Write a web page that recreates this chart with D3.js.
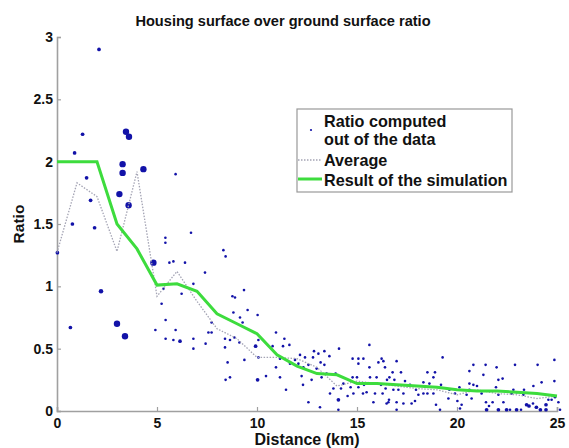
<!DOCTYPE html>
<html>
<head>
<meta charset="utf-8">
<script src="https://cdn.jsdelivr.net/npm/d3@7"></script>
<style>
  body { margin: 0; background: #fff; }
  text { font-family: "Liberation Sans", Arial, sans-serif; }
</style>
</head>
<body>
<div id="chart"></div>
<script>
// chart data
var titleText = "Housing surface over ground surface ratio";
var xTicks = [0, 5, 10, 15, 20, 25];
var yTicks = [0, 0.5, 1, 1.5, 2, 2.5, 3];
var legendLabels = [["Ratio computed", "out of the data"], ["Average"], ["Result of the simulation"]];

// distance (km) for the two lines
var lineDist = [0,1,2,3,4,5,6,7,8,9,10,11,12,13,14,15,16,17,18,19,20,21,22,23,24,25];
var averageRatio = [1.27,1.83,1.72,1.28,1.92,0.92,1.12,0.88,0.66,0.58,0.43,0.43,0.42,0.35,0.20,0.24,0.22,0.20,0.18,0.17,0.13,0.17,0.14,0.13,0.10,0.12];
var simulationRatio = [2.0,2.0,2.0,1.5,1.3,1.01,1.02,0.96,0.78,0.70,0.62,0.45,0.36,0.30,0.29,0.22,0.22,0.21,0.20,0.19,0.17,0.16,0.16,0.15,0.14,0.12];

// [distance, ratio, weight] for the data points
var ratioPoints = [
  [0.02,1.27,2],[0.67,0.67,2],[0.77,1.50,2],[0.88,2.07,2],[1.28,2.22,2],[1.48,1.87,2],[1.68,1.69,2],[1.88,1.47,2],
  [2.1,2.9,2],[2.2,0.96,3],[3.0,0.70,6],[3.4,0.60,6],[3.12,1.74,6],[3.28,1.98,6],[3.28,1.91,6],[3.45,2.24,6],
  [3.6,2.20,6],[3.58,1.65,6],[4.32,1.94,6],[4.82,1.19,6],
  [4.92,0.65,1],[5.23,0.86,1],[5.32,0.98,1],[5.43,0.73,1],[5.43,0.58,1],[5.42,1.39,1],[5.42,1.35,1],[5.62,1.19,1],
  [5.82,1.20,1],[5.82,0.57,1],[5.93,1.90,1],[5.93,0.65,1],[6.15,0.56,2],[6.23,0.94,1],[6.4,1.19,1],[6.7,1.43,1],
  [6.82,1.02,1],[6.82,0.58,1],[6.82,0.50,1],[7.4,1.11,1],[7.43,0.54,1],[7.57,0.63,1],[7.73,0.63,1],[7.73,0.71,1],
  [8.32,1.29,1],[8.43,1.24,1],[8.4,0.58,1],[8.4,0.51,1],[8.53,0.39,1],[8.43,0.25,1],[8.65,0.57,1],[8.65,0.27,1],
  [8.77,0.92,1],[8.9,0.91,1],[8.82,0.79,1],[8.87,0.59,1],[9.12,0.55,1],[9.15,0.75,1],[9.28,0.71,1],[9.35,0.97,1],
  [9.37,0.41,1],[9.53,0.81,1],[9.93,0.52,2],[10.03,0.77,1],[10.07,0.57,1],[10.07,0.43,1],[10.03,0.25,2],[10.45,0.28,1],
  [10.95,0.63,1],[10.78,0.52,1],[11.37,0.58,1],[11.62,0.53,1],[11.3,0.52,1],[11.15,0.42,1],[10.95,0.35,1],[11.15,0.27,1],
  [11.45,0.17,1],[11.65,0.38,1],[11.9,0.41,1],[12.07,0.38,1],[12.15,0.45,1],[12.4,0.43,1],[12.57,0.37,1],[12.32,0.35,1],
  [12.23,0.28,1],[12.3,0.21,1],[12.57,0.07,1],[12.85,0.48,1],[12.8,0.43,1],[13.07,0.46,1],[13.18,0.39,1],[12.98,0.34,1],
  [13.37,0.48,1],[13.37,0.37,1],[13.48,0.30,1],[13.23,0.27,1],[12.73,0.25,1],[13.15,0.03,1],[13.62,0.44,1],[14.1,0.50,1],
  [13.93,0.30,1],[13.65,0.14,1],[14.07,0.09,2],[14.07,0.01,1],[13.82,0.18,1],[14.2,0.18,1],[14.32,0.22,1],[14.53,0.12,1],
  [14.78,0.42,1],[15.07,0.42,1],[15.32,0.42,1],[15.62,0.53,1],[15.07,0.38,1],[14.78,0.27,1],[15.0,0.27,1],[14.68,0.19,1],
  [15.07,0.19,1],[14.82,0.14,1],[15.35,0.21,1],[15.48,0.15,1],[15.3,0.14,1],[15.65,0.27,1],[15.62,0.35,1],[15.9,0.14,1],
  [15.82,0.07,1],[16.07,0.39,1],[16.23,0.42,1],[16.2,0.21,1],[16.43,0.18,1],[16.48,0.06,1],[16.6,0.09,1],[16.32,0.40,1],
  [16.98,0.40,1],[16.4,0.35,1],[16.78,0.31,1],[17.2,0.31,1],[15.98,0.27,1],[16.62,0.27,1],[16.87,0.25,1],[16.5,0.25,1],
  [15.82,0.22,1],[17.4,0.24,1],[17.65,0.21,1],[17.07,0.17,1],[16.82,0.17,1],[16.28,0.14,1],[17.32,0.14,1],[16.57,0.07,1],
  [16.98,0.07,1],[17.32,0.06,1],[16.98,0.01,1],[17.73,0.06,1],[17.9,0.08,1],[18.07,0.13,1],[18.32,0.14,1],[18.32,0.23,1],
  [18.52,0.31,1],[18.9,0.31,1],[18.82,0.27,1],[18.62,0.22,1],[18.52,0.14,1],[18.82,0.14,1],[19.2,0.21,1],[19.28,0.43,1],
  [17.95,0.17,1],[18.95,0.05,1],[19.15,0.01,1],[19.57,0.10,1],[19.62,0.17,1],[19.9,0.14,1],[20.12,0.19,1],[20.02,0.08,1],
  [20.23,0.05,1],[20.15,0.02,1],[20.48,0.13,1],[20.62,0.17,1],[20.73,0.10,1],[20.62,0.22,1],[20.82,0.21,1],[21.0,0.20,1],
  [20.62,0.32,1],[20.82,0.37,1],[21.32,0.29,1],[21.43,0.37,1],[21.23,0.14,1],[21.45,0.07,1],[21.48,0.01,2],[21.6,0.04,1],
  [21.78,0.07,1],[21.98,0.35,1],[22.07,0.25,1],[22.28,0.26,1],[21.95,0.19,1],[22.07,0.13,1],[22.32,0.07,1],[22.07,0.01,2],
  [22.48,0.01,2],[22.65,0.01,1],[22.9,0.37,1],[22.82,0.17,1],[22.98,0.15,1],[22.73,0.14,1],[22.98,0.01,2],[23.2,0.01,1],
  [23.48,0.05,2],[23.6,0.04,2],[23.82,0.20,1],[24.03,0.37,1],[24.23,0.23,1],[23.97,0.03,2],[24.17,0.01,2],[24.45,0.01,2],
  [24.45,0.05,2],[24.57,0.09,1],[24.73,0.09,1],[24.87,0.41,1],[24.87,0.24,1],[25.07,0.07,1],[25.15,0.01,1],[24.9,0.11,1],
  [23.8,0.06,1],[23.32,0.13,1],[23.35,0.17,1]
];

var W = 569, H = 448;
var margin = {top: 37, right: 12, bottom: 37, left: 57};
var width = W - margin.left - margin.right,
    height = H - margin.top - margin.bottom;

var svg = d3.select("#chart").append("svg")
    .attr("width", W)
    .attr("height", H);

var g = svg.append("g")
    .attr("transform", "translate(" + margin.left + "," + margin.top + ")");

var x = d3.scaleLinear().domain([0, 25]).range([0, width]);
var y = d3.scaleLinear().domain([0, 3]).range([height, 0]);
var r = d3.scaleSqrt().domain([0, 6]).range([0, 3.2]);

// title
svg.append("text")
    .attr("x", 283).attr("y", 26)
    .attr("text-anchor", "middle")
    .style("font-size", "14.6px").style("font-weight", "bold")
    .attr("fill", "#111")
    .text(titleText);

// axes
var xAxis = g.append("g")
    .attr("transform", "translate(0," + height + ")")
    .call(d3.axisBottom(x).tickValues(xTicks).tickSize(-4).tickPadding(7).tickFormat(String));
var yAxis = g.append("g")
    .call(d3.axisLeft(y).tickValues(yTicks).tickSize(-4).tickPadding(4).tickFormat(String));

[xAxis, yAxis].forEach(function(a) {
    a.select(".domain").attr("stroke", "#a0a0a0").attr("stroke-width", 1.6);
    a.selectAll(".tick line").attr("stroke", "#a0a0a0").attr("stroke-width", 1.2);
    a.selectAll(".tick text")
        .attr("fill", "#111")
        .style("font-size", "14px").style("font-weight", "bold")
        .style("font-family", "'Liberation Sans', Arial, sans-serif");
});

// axis labels
svg.append("text")
    .attr("x", margin.left + width / 2).attr("y", 445)
    .attr("text-anchor", "middle")
    .style("font-size", "16px").style("font-weight", "bold")
    .attr("fill", "#111")
    .text("Distance (km)");
svg.append("text")
    .attr("transform", "translate(24," + (margin.top + height / 2) + ") rotate(-90)")
    .attr("text-anchor", "middle")
    .style("font-size", "15.5px").style("font-weight", "bold")
    .attr("fill", "#111")
    .text("Ratio");

// data points
g.selectAll("circle.pt")
    .data(ratioPoints)
    .enter()
    .append("circle")
        .attr("class", "pt")
        .attr("cx", function(d) { return x(d[0]); })
        .attr("cy", function(d) { return y(d[1]); })
        .attr("r", function(d) { return r(d[2]); })
        .attr("fill", "#1212a8");

// average line (dotted gray)
var avgLine = d3.line()
    .x(function(d, i) { return x(lineDist[i]); })
    .y(function(d) { return y(d); });
g.append("path")
    .datum(averageRatio)
    .attr("d", avgLine)
    .attr("fill", "none")
    .attr("stroke", "#a4a4b4")
    .attr("stroke-width", 1.3)
    .attr("stroke-dasharray", "1.5,1.5");

// simulation line
g.append("path")
    .datum(simulationRatio)
    .attr("d", avgLine)
    .attr("fill", "none")
    .attr("stroke", "#3ddc3d")
    .attr("stroke-width", 3);

// legend
var leg = svg.append("g");
leg.append("rect")
    .attr("x", 297).attr("y", 109).attr("width", 215).attr("height", 83)
    .attr("fill", "#fff").attr("stroke", "#999").attr("stroke-width", 1.2);
leg.append("circle").attr("cx", 311).attr("cy", 130).attr("r", 1.1).attr("fill", "#1212a8");
leg.append("line").attr("x1", 298).attr("x2", 322).attr("y1", 160).attr("y2", 160)
    .attr("stroke", "#a4a4b4").attr("stroke-width", 1.3).attr("stroke-dasharray", "1.5,1.5");
leg.append("line").attr("x1", 298).attr("x2", 322).attr("y1", 179).attr("y2", 179)
    .attr("stroke", "#3ddc3d").attr("stroke-width", 3);

var legBaselines = [[127, 145], [166], [186]];
legendLabels.forEach(function(lines, i) {
    lines.forEach(function(t, j) {
        leg.append("text")
            .attr("x", 324).attr("y", legBaselines[i][j])
            .style("font-size", "16.2px").style("font-weight", "bold")
            .attr("fill", "#111")
            .text(t);
    });
});
</script>
</body>
</html>
